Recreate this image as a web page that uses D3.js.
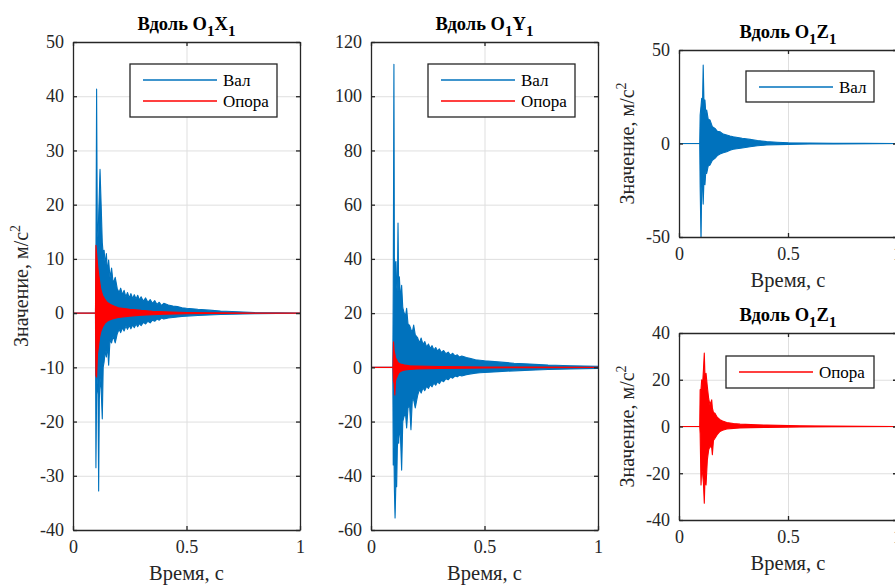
<!DOCTYPE html>
<html>
<head>
<meta charset="utf-8">
<script src="https://cdn.jsdelivr.net/npm/d3@7"></script>
<style>
  body { margin: 0; background: #fff; }
  svg { display: block; }
  .grid line { stroke: #dfdfdf; stroke-width: 1; }
  .grid path { display: none; }
</style>
</head>
<body>
<div id="chart"></div>
<script>

/*** DATA (envelope of the oscillation, max / min) ***/

const xTicks = [0, 0.5, 1];
const legendVal = "Вал";
const legendOpora = "Опора";
const yLabel = "Значение, м/с";
const xLabel = "Время, с";

// O1X1
const yTicksX = [-40, -30, -20, -10, 0, 10, 20, 30, 40, 50];
const tValX =   [0, 0.099, 0.101, 0.104, 0.107, 0.110, 0.113, 0.116, 0.119, 0.124, 0.129, 0.133, 0.137, 0.142, 0.147, 0.152, 0.157, 0.163, 0.170, 0.177, 0.186,
                 0.195, 0.203, 0.210, 0.218, 0.225, 0.233, 0.240, 0.248, 0.255, 0.263, 0.270, 0.278, 0.285, 0.293, 0.300, 0.31, 0.32, 0.33, 0.34, 0.35, 0.36, 0.37, 0.38, 0.39, 0.40,
                 0.42, 0.44, 0.46, 0.48, 0.50, 0.55, 0.60, 0.65, 0.70, 0.80, 0.90, 1.0];
const valXUp =  [0, 0, 10, 41.3, 16, 14, 18, 22, 26.5, 20, 13, 11, 11.6, 9, 11, 7.5, 9.8, 6.5, 8.3, 5.5, 6.6,
                 4.5, 3.8, 4.6, 3.4, 4.2, 3.0, 3.8, 2.8, 3.6, 2.7, 3.4, 2.6, 3.3, 2.4, 3.0, 2.2, 2.8, 2.0, 2.5, 1.8, 2.3, 1.6, 2.0, 1.4, 1.8,
                 1.5, 1.3, 1.2, 1.0, 0.9, 0.7, 0.55, 0.4, 0.3, 0.12, 0.05, 0];
const valXLo =  [0, 0, -28.5, -15, -14, -12, -32.8, -16, -12, -14, -19.5, -10, -9, -7, -8.1, -6, -9.6, -5, -5.5, -4.2, -5.5,
                 -3.8, -3.0, -3.6, -2.7, -3.3, -2.4, -3.0, -2.3, -2.9, -2.2, -2.7, -2.0, -2.5, -1.9, -2.3, -1.7, -2.0, -1.5, -1.8, -1.3, -1.5, -1.1, -1.3, -0.9, -1.1,
                 -0.9, -0.8, -0.7, -0.6, -0.55, -0.45, -0.35, -0.25, -0.2, -0.1, -0.05, 0];
const tOpX =    [0, 0.099, 0.101, 0.104, 0.108, 0.112, 0.117, 0.122, 0.130, 0.140, 0.150, 0.165, 0.180, 0.20, 0.25, 0.30, 0.35, 0.40, 0.50, 0.60, 1.0];
const opXUp =   [0, 0, 12.5, 11, 9, 7.5, 6, 4.5, 3.3, 2.6, 2.0, 1.6, 1.3, 1.0, 0.7, 0.5, 0.35, 0.25, 0.12, 0.05, 0];
const opXLo =   [0, 0, -11.5, -11.8, -7.5, -6.3, -4.5, -3.5, -2.6, -1.9, -1.5, -1.2, -1.0, -0.8, -0.55, -0.4, -0.3, -0.2, -0.1, -0.05, 0];

// O1Y1
const yTicksY = [-60, -40, -20, 0, 20, 40, 60, 80, 100, 120];
const tValY =   [0, 0.096, 0.098, 0.101, 0.103, 0.106, 0.110, 0.113, 0.116, 0.119, 0.122, 0.125, 0.130, 0.135, 0.140, 0.146, 0.152, 0.157, 0.163, 0.170, 0.176, 0.182, 0.188, 0.195,
                 0.205, 0.213, 0.221, 0.229, 0.237, 0.245, 0.253, 0.261, 0.269, 0.277, 0.285, 0.293, 0.301, 0.31, 0.32, 0.33, 0.34, 0.35, 0.36, 0.37, 0.38, 0.39, 0.40,
                 0.42, 0.44, 0.46, 0.48, 0.50, 0.56, 0.63, 0.70, 0.78, 0.88, 1.0];
const valYUp =  [0, 0, 30, 111.8, 40, 38, 39, 30, 28, 53.2, 28, 33.4, 25, 30.3, 22, 20, 19, 21.8, 16, 15.5, 14, 13, 15.6, 12,
                 11, 9, 10.8, 8.5, 9.5, 7.5, 8.6, 7, 8, 6.4, 7.3, 6, 6.8, 5.5, 6.2, 5, 5.6, 4.5, 5.2, 4.2, 4.6, 3.8, 4.2,
                 3.6, 3.2, 2.8, 2.6, 2.4, 2.0, 1.5, 1.2, 0.85, 0.6, 0.4];
const valYLo =  [0, 0, -36, -30, -45, -55.6, -41.6, -44, -30, -25, -28, -22, -26, -37.9, -20, -18, -17, -22.4, -15, -14, -23, -12, -12, -15,
                 -10.5, -8.2, -9.5, -7.6, -8.6, -7, -7.8, -6.4, -7.2, -5.8, -6.6, -5.3, -6, -4.8, -5.3, -4.2, -4.6, -3.6, -4.0, -3.2, -3.5, -2.9, -3.2,
                 -2.7, -2.4, -2.2, -2.0, -1.9, -1.6, -1.3, -1.1, -0.8, -0.6, -0.4];
const tOpY =    [0, 0.097, 0.099, 0.102, 0.105, 0.108, 0.112, 0.117, 0.123, 0.130, 0.140, 0.150, 0.170, 0.20, 0.25, 0.30, 0.40, 0.50, 0.70, 1.0];
const opYUp =   [0, 0, 9.4, 6, 5, 3.5, 3, 2, 1.5, 1.2, 1.0, 0.8, 0.6, 0.5, 0.4, 0.3, 0.2, 0.15, 0.1, 0.05];
const opYLo =   [0, 0, -5, -6, -10.2, -5, -4, -3, -2, -1.5, -1.2, -1.0, -0.8, -0.6, -0.5, -0.4, -0.3, -0.2, -0.1, -0.05];

// O1Z1, вал
const yTicksZ1 = [-50, 0, 50];
const tValZ =   [0, 0.095, 0.097, 0.101, 0.104, 0.108, 0.111, 0.115, 0.119, 0.123, 0.127, 0.134, 0.142, 0.153, 0.165, 0.176, 0.188, 0.203, 0.219, 0.234, 0.249, 0.29, 0.326, 0.36, 0.402, 0.45, 0.502, 0.60, 0.708, 0.85, 1.0];
const valZUp =  [0, 0, 15.2, 20, 24.2, 22, 42, 20, 23.3, 16, 17.9, 13, 12.6, 9, 8.1, 6.5, 6.3, 5, 4.5, 4, 3.6, 2.8, 2.2, 1.6, 1.0, 0.7, 0.4, 0.25, 0.1, 0.05, 0];
const valZLo =  [0, 0, -23, -52, -25, -20, -32.4, -18, -22, -15, -16, -12, -11.5, -9, -7.9, -6.5, -5.6, -5, -4.4, -3.6, -3.1, -2.4, -1.7, -1.2, -0.8, -0.6, -0.45, -0.3, -0.2, -0.1, 0];

// O1Z1, опора
const yTicksZ2 = [-40, -20, 0, 20, 40];
const tOpZ =    [0, 0.095, 0.097, 0.101, 0.104, 0.108, 0.112, 0.116, 0.120, 0.124, 0.130, 0.136, 0.142, 0.150, 0.153, 0.158, 0.165, 0.175, 0.188, 0.20, 0.219, 0.25, 0.28, 0.33, 0.402, 0.555, 0.70, 1.0];
const opZUp =   [0, 0, 15.7, 16, 20, 18, 24, 31.4, 19, 22.8, 17, 12, 9.3, 11.4, 8, 6, 5.7, 4, 2.9, 2.4, 1.7, 1.3, 1.0, 0.8, 0.6, 0.3, 0.15, 0];
const opZLo =   [0, 0, -3, -25, -18, -20, -24, -32.8, -20, -25, -14.3, -10, -8.6, -9, -12.1, -6, -5, -3.5, -2.1, -1.6, -1.1, -0.8, -0.6, -0.5, -0.4, -0.2, -0.1, 0];

/*** HELPERS ***/

const BLUE = "#0072BD";
const RED = "#FF0000";
const INK = "#262626";
const SERIF = "'Liberation Serif', 'Times New Roman', serif";

function band(t, up, lo) {
    return t.map(function (d, i) { return {t: d, hi: up[i], lo: lo[i]}; });
}

const svg = d3.select("#chart").append("svg")
    .attr("width", 895)
    .attr("height", 585);

let clipId = 0;

function panel(p) {
    const x = d3.scaleLinear().domain([0, 1]).range([p.left, p.right]);
    const y = d3.scaleLinear().domain(p.yDomain).range([p.bottom, p.top]);
    const w = p.right - p.left;
    const h = p.bottom - p.top;
    const g = svg.append("g");

    // grid
    g.append("g").attr("class", "grid")
        .attr("transform", "translate(0," + p.bottom + ")")
        .call(d3.axisBottom(x).tickValues(xTicks).tickSize(-h).tickFormat(""));
    g.append("g").attr("class", "grid")
        .attr("transform", "translate(" + p.left + ",0)")
        .call(d3.axisLeft(y).tickValues(p.yTicks).tickSize(-w).tickFormat(""));

    // clip
    clipId++;
    g.append("clipPath").attr("id", "clip" + clipId)
        .append("rect")
        .attr("x", p.left).attr("y", p.top)
        .attr("width", w).attr("height", h);

    const area = d3.area()
        .x(function (d) { return x(d.t); })
        .y0(function (d) { return y(d.lo); })
        .y1(function (d) { return y(d.hi); });

    const plot = g.append("g").attr("clip-path", "url(#clip" + clipId + ")");
    p.series.forEach(function (s) {
        plot.append("path")
            .datum(s.data)
            .attr("d", area)
            .attr("fill", s.color)
            .attr("stroke", s.color)
            .attr("stroke-width", 1.1)
            .attr("stroke-linejoin", "round");
    });

    // axes, ticks inside, box all round
    const fmt = function (d) { return String(d); };
    const axes = [
        g.append("g").attr("transform", "translate(0," + p.bottom + ")")
            .call(d3.axisBottom(x).tickValues(xTicks).tickSizeInner(-4).tickSizeOuter(0).tickPadding(10).tickFormat(fmt)),
        g.append("g").attr("transform", "translate(0," + p.top + ")")
            .call(d3.axisTop(x).tickValues(xTicks).tickSizeInner(-4).tickSizeOuter(0).tickFormat("")),
        g.append("g").attr("transform", "translate(" + p.left + ",0)")
            .call(d3.axisLeft(y).tickValues(p.yTicks).tickSizeInner(-4).tickSizeOuter(0).tickPadding(9).tickFormat(fmt)),
        g.append("g").attr("transform", "translate(" + p.right + ",0)")
            .call(d3.axisRight(y).tickValues(p.yTicks).tickSizeInner(-4).tickSizeOuter(0).tickFormat(""))
    ];
    axes.forEach(function (a) {
        a.selectAll("path, line").attr("stroke", INK).attr("stroke-width", 1.3);
        a.selectAll("text")
            .attr("fill", INK)
            .style("font-family", SERIF)
            .style("font-size", "18px");
    });

    // title with subscripts
    const title = g.append("text")
        .attr("x", (p.left + p.right) / 2)
        .attr("y", p.top - 12)
        .attr("text-anchor", "middle")
        .attr("fill", "#000")
        .style("font-family", SERIF)
        .style("font-weight", "bold")
        .style("font-size", "18.5px");
    title.append("tspan").text("Вдоль O");
    title.append("tspan").attr("dy", 6).style("font-size", "15px").text("1");
    title.append("tspan").attr("dy", -6).text(p.axisName);
    title.append("tspan").attr("dy", 6).style("font-size", "15px").text("1");

    // x label
    g.append("text")
        .attr("x", (p.left + p.right) / 2)
        .attr("y", p.bottom + 50)
        .attr("text-anchor", "middle")
        .attr("fill", INK)
        .style("font-family", SERIF)
        .style("font-size", "20.5px")
        .text(xLabel);

    // y label
    if (p.yLabel) {
        const yl = g.append("text")
            .attr("transform", "translate(" + (p.left - 45) + "," + ((p.top + p.bottom) / 2) + ") rotate(-90)")
            .attr("text-anchor", "middle")
            .attr("fill", INK)
            .style("font-family", SERIF)
            .style("font-size", "20px");
        yl.append("tspan").text(yLabel);
        yl.append("tspan").attr("dy", -8).style("font-size", "14px").text("2");
    }

    // legend
    const lg = p.legend;
    const bx = p.right - 23 - lg.width;
    const by = p.top + lg.dy;
    g.append("rect")
        .attr("x", bx).attr("y", by)
        .attr("width", lg.width).attr("height", lg.height)
        .attr("fill", "#fff")
        .attr("stroke", INK)
        .attr("stroke-width", 1.3);
    p.series.forEach(function (s, i) {
        const ly = by + 16 + i * 21;
        g.append("line")
            .attr("x1", bx + 13).attr("x2", bx + 87)
            .attr("y1", ly).attr("y2", ly)
            .attr("stroke", s.color)
            .attr("stroke-width", 1.3);
        g.append("text")
            .attr("x", bx + 93)
            .attr("y", ly + 6)
            .attr("fill", "#000")
            .style("font-family", SERIF)
            .style("font-size", "17px")
            .text(s.name);
    });
}

/*** PANELS ***/

panel({
    left: 73, right: 300, top: 42, bottom: 530,
    yDomain: [-40, 50], yTicks: yTicksX, axisName: "X", yLabel: true,
    legend: {width: 147, height: 53, dy: 22},
    series: [
        {name: legendVal, color: BLUE, data: band(tValX, valXUp, valXLo)},
        {name: legendOpora, color: RED, data: band(tOpX, opXUp, opXLo)}
    ]
});

panel({
    left: 371, right: 598, top: 42, bottom: 530,
    yDomain: [-60, 120], yTicks: yTicksY, axisName: "Y", yLabel: false,
    legend: {width: 147, height: 53, dy: 22},
    series: [
        {name: legendVal, color: BLUE, data: band(tValY, valYUp, valYLo)},
        {name: legendOpora, color: RED, data: band(tOpY, opYUp, opYLo)}
    ]
});

panel({
    left: 679, right: 897, top: 50, bottom: 237,
    yDomain: [-50, 50], yTicks: yTicksZ1, axisName: "Z", yLabel: true,
    legend: {width: 128, height: 31, dy: 21},
    series: [
        {name: legendVal, color: BLUE, data: band(tValZ, valZUp, valZLo)}
    ]
});

panel({
    left: 679, right: 897, top: 333, bottom: 520,
    yDomain: [-40, 40], yTicks: yTicksZ2, axisName: "Z", yLabel: true,
    legend: {width: 148, height: 32, dy: 23},
    series: [
        {name: legendOpora, color: RED, data: band(tOpZ, opZUp, opZLo)}
    ]
});

</script>
</body>
</html>
